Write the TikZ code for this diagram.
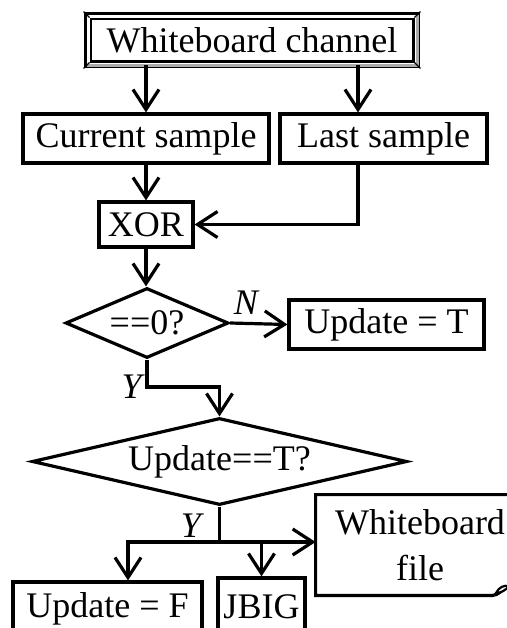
\documentclass[tikz,border=0pt]{standalone}
\usepackage{fontspec}
\setmainfont{Liberation Serif}
\usetikzlibrary{shapes.geometric,arrows.meta,calc}
\newcommand\fs{\fontsize{18pt}{23pt}\selectfont}
\tikzset{
  box/.style={draw, rectangle, line width=1.6pt, inner sep=0pt, font=\fs, align=center},
  decision/.style={draw, diamond, line width=1.6pt, inner sep=0pt, font=\fs},
  flow/.style={line width=1.6pt, -{Straight Barb[length=10pt,width=13pt,line width=1.6pt]}},
  plain/.style={line width=1.6pt},
  lab/.style={font=\fs\itshape, inner sep=0pt},
}
\begin{document}
\begin{tikzpicture}[x=0.5pt,y=-0.5pt]
  \useasboundingbox (0,0) rectangle (507,628);
  \clip (0,0) rectangle (507,628);

  % framed title box
  \node[box, double, line width=1.4pt, double distance=1.5pt,
        minimum width=164pt, minimum height=24pt] (top) at (252,40) {Whiteboard channel};
  \draw[gray!65, line width=1.3pt] (top.south west) -- (top.south east) -- (top.north east);
  \foreach \c/\dx/\dy in {north west/-1/-1, north east/1/-1, south west/-1/1, south east/1/1}
    \draw[line width=0.7pt] ($(top.\c)+(-3*\dx,-3*\dy)$) -- ($(top.\c)+(3*\dx,3*\dy)$);

  % process boxes
  \node[box, minimum width=123pt, minimum height=24.5pt] (cur) at (146,138.5) {Current sample};
  \node[box, minimum width=103.5pt, minimum height=24.5pt] (last) at (383.5,138.5) {Last sample};
  \node[box, minimum width=47pt, minimum height=22.5pt] (xor) at (146,224.5) {XOR};
  \node[decision, aspect=2.33, minimum width=81.5pt, minimum height=35pt] (d1) at (147,323) {==0?};
  \node[box, minimum width=97.5pt, minimum height=24.5pt] (updT) at (386.5,324.5) {Update = T};
  \node[decision, aspect=4.3, minimum width=187.5pt, minimum height=43.5pt] (d2) at (219.5,461.5) {Update==T?};
  \node[box, minimum width=94.5pt, minimum height=27pt] (updF) at (107.5,609) {Update = F};
  \node[box, minimum width=43.5pt, minimum height=29pt] (jbig) at (261.5,607) {JBIG};
  \node[inner sep=0pt, font=\fs, align=center, minimum width=104pt, minimum height=50pt]
    (file) at (420,545) {Whiteboard\\file};

  % document outline with curled corner
  \draw[plain] (file.north east) -- (file.north west) -- (file.south west)
    -- ++(177,0) coordinate (curl) .. controls +(5,0) and +(-5,3) .. ++(14,-8);
  \draw[line width=1.1pt, fill=white] (496,593) .. controls (499,587) and (504,585) .. (509,586)
    .. controls (506,590) and (501,593) .. cycle;

  % connectors
  \coordinate (lx) at (358,0);
  \draw[flow] (cur.north |- top.south) -- (cur.north);
  \draw[flow] (lx |- top.south) -- (lx |- last.north);
  \draw[flow] (cur.south) -- (cur.south |- xor.north);
  \draw[flow] (lx |- last.south) |- (xor.east);
  \draw[flow] (xor.south) -- (xor.south |- d1.north);
  \draw[flow] (d1.east) -- (updT.west);
  \node[lab] (nlab) at (246,303) {N};

  \coordinate (ybend) at (147,387);
  \draw[flow] (d1.south) -- (ybend) -| (d2.north);
  \node[lab, anchor=east] (ylab1) at ($(ybend)+(-5,0)$) {Y};

  \coordinate (jn) at (219.5,542);
  \coordinate (jl) at (128,542);
  \draw[plain] (d2.south) -- (jn);
  \draw[flow] (jn) -- (jl) -- (jl |- updF.north);
  \draw[flow] (jn) -| (jbig.north);
  \draw[flow] (jn) -- (jn -| file.west);
  \node[lab] (ylab2) at (191,526) {Y};
\end{tikzpicture}
\end{document}
